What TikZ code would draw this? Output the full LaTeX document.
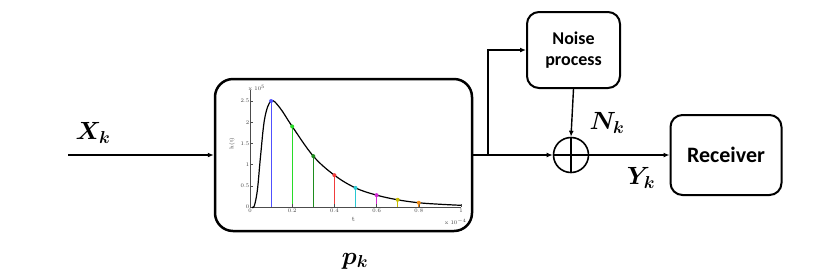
\documentclass[tikz,border=0pt]{standalone}
\usepackage{fontspec}
\usepackage{amsmath,bm}
\newfontfamily\boxfont{Carlito}
\usetikzlibrary{arrows.meta}
\definecolor{cBlue}{RGB}{80,80,255}
\definecolor{cGreen}{RGB}{40,220,40}
\definecolor{cDkGreen}{RGB}{30,140,30}
\definecolor{cRed}{RGB}{240,60,60}
\definecolor{cCyan}{RGB}{40,200,210}
\definecolor{cMag}{RGB}{210,40,210}
\definecolor{cYel}{RGB}{200,190,0}
\definecolor{cOra}{RGB}{240,140,20}
\tikzset{
  blk/.style={draw, line width=2pt, rounded corners=12pt, align=center, font=\boxfont\bfseries},
  conn/.style={line width=1.4pt, -{Latex[length=6pt,width=5pt]}},
  lbl/.style={font=\fontsize{26}{28}\selectfont},
  tiny/.style={font=\fontsize{5.5}{6}\selectfont, inner sep=0.5pt, text=black!75},
  drop/.style={line width=1pt},
}
\begin{document}
\begin{tikzpicture}[x=1pt,y=-1pt]
\useasboundingbox (0,0) rectangle (830,277);
% blocks
\node[blk, line width=2.5pt, rounded corners=18pt, minimum width=257pt, minimum height=152pt] (plotbox) at (343.5,155) {};
\node[blk, minimum width=93pt, minimum height=76pt, font=\boxfont\bfseries\fontsize{18}{21}\selectfont] (noise) at (573.5,50) {Noise\\process};
\node[blk, minimum width=111pt, minimum height=80pt, font=\boxfont\bfseries\fontsize{22}{26}\selectfont] (rx) at (726,155) {Receiver};
\node[draw, circle, line width=1.6pt, minimum size=35pt, inner sep=0pt] (sum) at (571,155) {};
\draw[line width=1.6pt] (sum.north) -- (sum.south) (sum.west) -- (sum.east);
% connectors
\coordinate (in) at (68,155);
\coordinate (br) at (488,155);
\draw[conn] (in) -- (plotbox.west);
\draw[conn] (plotbox.east) -- (sum.west);
\draw[conn] (br) |- (noise.west);
\draw[conn] (noise.south) -- (sum.north);
\draw[conn] (sum.east) -- (rx.west);
% labels
\node[lbl] (xk) at (93,133) {$\bm{X_k}$};
\node[lbl] (nk) at (607,123) {$\bm{N_k}$};
\node[lbl] (yk) at (641,178) {$\bm{Y_k}$};
\node[lbl] (pk) at (355,261) {$\bm{p_k}$};
% coloured sample lines (pixel aligned)
\foreach \x/\h/\c in {271.5/2.5/cBlue,292.5/1.9/cGreen,313.5/1.2/cDkGreen,334.5/0.75/cRed,355.5/0.45/cCyan,376.5/0.28/cMag,397.5/0.17/cYel,418.5/0.1/cOra} {
  \draw[drop, draw=\c] (\x,207) -- (\x,{207-42.4*\h});
}
% plot inside the box
\begin{scope}[shift={(250pt,-207pt)}, x={(211pt,0pt)}, y={(0pt,42.4pt)}]
  \draw[line width=0.4pt, black!70] (0,2.75) -- (0,0) -- (1,0);
  \foreach \v in {0,0.5,1,1.5,2,2.5} {
    \draw[line width=0.3pt, black!70] (0,\v) -- (0.012,\v);
    \node[tiny, anchor=east] at (0,\v) {\v};
  }
  \foreach \v in {0,0.2,0.4,0.6,0.8,1} {
    \draw[line width=0.3pt, black!70] (\v,0) -- (\v,0.06);
    \node[tiny, anchor=north] at (\v,-0.03) {\v};
  }
  \node[tiny, anchor=south west] at (-0.01,2.72) {x 10$^{5}$};
  \node[tiny, rotate=90] at (-0.085,1.5) {h(t)};
  \node[tiny, font=\fontsize{7}{8}\selectfont] at (0.49,-0.3) {t};
  \node[tiny, anchor=east] at (1.03,-0.36) {x 10$^{-4}$};
  \draw[line width=1.2pt, black] plot[smooth, tension=0.6] coordinates {
    (0.01,0) (0.02,0.02) (0.035,0.4) (0.05,1.2) (0.07,2.1) (0.1,2.5) (0.14,2.35) (0.2,1.9)
    (0.3,1.2) (0.4,0.75) (0.5,0.45) (0.6,0.28) (0.7,0.17) (0.8,0.1) (0.9,0.065) (1.0,0.04)};
  \foreach \t/\h/\c in {0.1/2.5/cBlue,0.2/1.9/cGreen,0.3/1.2/cDkGreen,0.4/0.75/cRed,0.5/0.45/cCyan,0.6/0.28/cMag,0.7/0.17/cYel,0.8/0.1/cOra} {
    \fill[fill=\c] (\t,\h) circle (2pt);
  }
\end{scope}
\end{tikzpicture}
\end{document}
